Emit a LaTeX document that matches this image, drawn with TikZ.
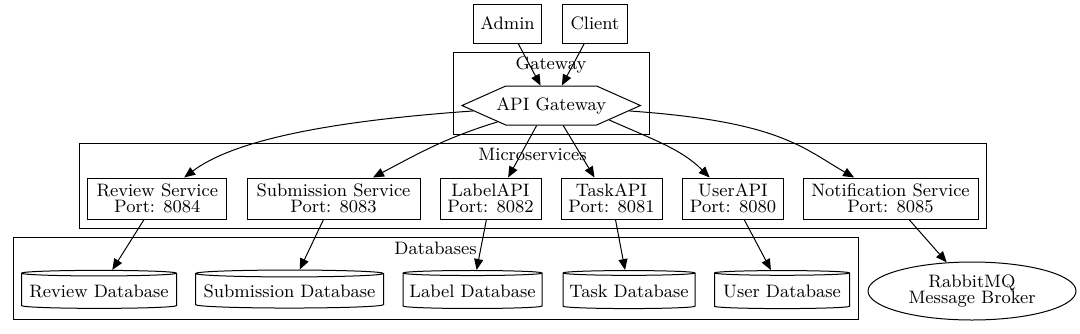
\documentclass[tikz,border=0pt]{standalone}
\usetikzlibrary{arrows.meta,shapes.geometric,shapes.symbols}

\begin{document}
\begin{tikzpicture}[
  x=0.5pt, y=0.5pt,
  font=\fontsize{9}{8.2}\selectfont,
  line width=0.5pt,
  box/.style={draw, rectangle, align=center, inner sep=0pt, minimum height=20.5pt},
  hexa/.style={draw, signal, signal to=east and west, signal pointer angle=48,
               inner ysep=0pt, inner xsep=-4.75pt, minimum height=19.5pt},
  db/.style={draw, cylinder, shape border rotate=90, aspect=0.04,
             inner sep=0pt, minimum height=19pt},
  broker/.style={draw, ellipse, align=center, inner sep=0pt,
                 minimum width=104pt, minimum height=29pt},
  grp/.style={draw, rectangle, inner sep=0pt},
  lbl/.style={inner sep=0pt, anchor=base},
  arr/.style={-{Triangle[length=5.5pt, width=4.5pt]}}
]
\useasboundingbox (0,0) rectangle (1080,-333);

\node[grp, minimum width=98pt, minimum height=41pt] (gwgrp) at (551,-93) {};
\node[lbl] (gwlbl) at (551,-69) {Gateway};
\node[grp, minimum width=453.5pt, minimum height=42.5pt] (msgrp) at (532.5,-185.5) {};
\node[lbl] (mslbl) at (532.5,-160) {Microservices};
\node[grp, minimum width=422.5pt, minimum height=41pt] (dbgrp) at (435.5,-278) {};
\node[lbl] (dblbl) at (435.5,-254) {Databases};

\node[box, minimum width=34pt, minimum height=19.5pt] (admin) at (507.5,-23.5) {Admin};
\node[box, minimum width=32.5pt, minimum height=19.5pt] (client) at (595,-23.5) {Client};
\node[hexa] (gw) at (551.2,-105.5) {API Gateway};

\node[box, minimum width=69.5pt] (rev) at (157.3,-198.5) {Review Service\\Port: 8084};
\node[box, minimum width=86.5pt] (sub) at (333.5,-198.5) {Submission Service\\Port: 8083};
\node[box, minimum width=50.5pt] (lab) at (490.5,-198.5) {LabelAPI\\Port: 8082};
\node[box, minimum width=50.5pt] (task) at (611.5,-198.5) {TaskAPI\\Port: 8081};
\node[box, minimum width=50.5pt] (user) at (733,-198.5) {UserAPI\\Port: 8080};
\node[box, minimum width=87.5pt] (notif) at (890.5,-198.5) {Notification Service\\Port: 8085};

\node[db, minimum width=77.5pt] (rdb) at (99,-291) {Review Database};
\node[db, minimum width=94pt] (sdb) at (289.5,-291) {Submission Database};
\node[db, minimum width=69.5pt] (ldb) at (472.5,-291) {Label Database};
\node[db, minimum width=66pt] (tdb) at (629,-291) {Task Database};
\node[db, minimum width=67.5pt] (udb) at (782,-291) {User Database};
\node[broker] (mq) at (972,-291) {RabbitMQ\\Message Broker};

\draw[arr] (admin) -- (gw);
\draw[arr] (client) -- (gw);
\draw[arr] (gw.184) .. controls +(184:150) and +(37:60) .. (rev.38);
\draw[arr] (gw) to[out=197, in=28] (sub);
\draw[arr] (gw.234) -- (lab.50);
\draw[arr] (gw.301) -- (task.129);
\draw[arr] (gw.-14) .. controls +(-24:50) and +(135:40) .. (user.138);
\draw[arr] (gw.-4) .. controls +(-4:150) and +(150:60) .. (notif.150);
\foreach \s/\d in {rev/rdb, sub/sdb, lab/ldb, task/tdb, user/udb, notif/mq}
  \draw[arr] (\s) -- (\d);
\end{tikzpicture}
\end{document}
